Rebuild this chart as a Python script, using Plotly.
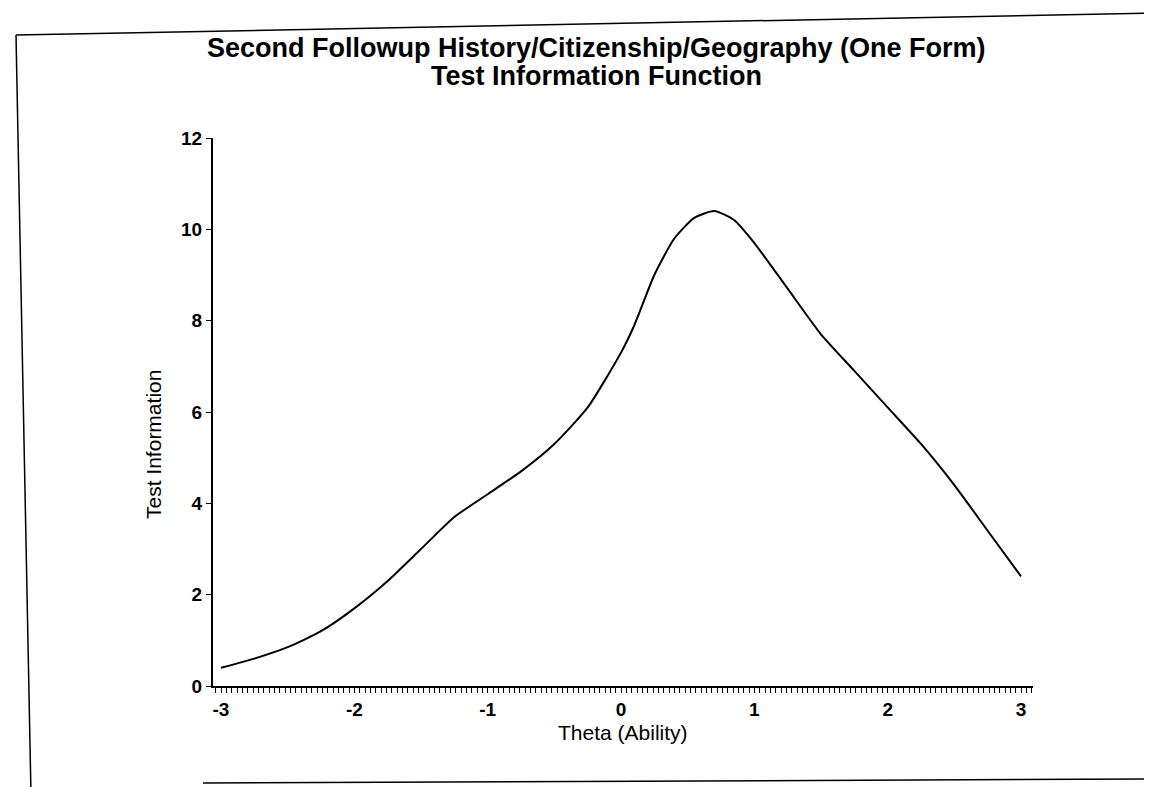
import plotly.graph_objects as go

# ── Data ───────────────────────────────────────────────────────
THETA = [-3.0, -2.75, -2.5, -2.25, -2.0, -1.75, -1.5, -1.25, -1.0, -0.75,
         -0.5, -0.25, 0.0, 0.1, 0.25, 0.4, 0.55, 0.7, 0.85, 1.0,
         1.25, 1.5, 1.75, 2.0, 2.25, 2.5, 2.75, 3.0]
INFO = [0.4, 0.6, 0.85, 1.2, 1.7, 2.3, 3.0, 3.7, 4.2, 4.7,
        5.3, 6.1, 7.3, 7.9, 9.0, 9.8, 10.25, 10.4, 10.2, 9.7,
        8.7, 7.7, 6.9, 6.1, 5.3, 4.4, 3.4, 2.4]
X_TICKS = [-3, -2, -1, 0, 1, 2, 3]
Y_TICKS = [0, 2, 4, 6, 8, 10, 12]

TITLE_1 = "Second Followup History/Citizenship/Geography (One Form)"
TITLE_2 = "Test Information Function"
FONT = "Liberation Sans, Arial, sans-serif"

W, H = 1152, 787
L, R, T, B = 205, 127, 130, 109
PW, PH = W - L - R, H - T - B


def px(x, y):
    """pixel -> paper coordinates (page decorations only)."""
    return (x - L) / PW, (H - B - y) / PH


def label(text, x, y, size, angle=0, weight="normal"):
    xp, yp = px(x, y)
    fig.add_annotation(text=text, x=xp, y=yp, xref="paper", yref="paper",
                       xanchor="center", yanchor="middle", textangle=angle,
                       showarrow=False, font=dict(size=size, weight=weight))


fig = go.Figure(go.Scatter(
    x=THETA, y=INFO, mode="lines",
    line=dict(color="black", width=2, shape="spline", smoothing=0.6),
    showlegend=False, hoverinfo="skip",
))

fig.update_layout(
    width=W, height=H,
    margin=dict(l=L, r=R, t=T, b=B),
    paper_bgcolor="white", plot_bgcolor="white",
    font=dict(family=FONT, color="black"),
)

fig.update_xaxes(
    range=[-3.06, 3.09], showgrid=False, zeroline=False,
    showline=True, linecolor="black", linewidth=2,
    tickmode="array", tickvals=X_TICKS, ticktext=[str(v) for v in X_TICKS],
    ticks="outside", ticklen=5, tickcolor="black", tickwidth=1,
    tickfont=dict(size=19, weight="bold"),
    minor=dict(dtick=0.04, ticks="outside", ticklen=5, tickcolor="black", tickwidth=1),
)
fig.update_yaxes(
    range=[0, 12], showgrid=False, zeroline=False,
    showline=True, linecolor="black", linewidth=2,
    tickmode="array", tickvals=Y_TICKS, ticktext=[str(v) for v in Y_TICKS],
    ticks="outside", ticklen=5, tickcolor="black", tickwidth=1,
    tickfont=dict(size=19, weight="bold"),
)

# titles
label(TITLE_1, 588, 40, 27, weight="bold")
label(TITLE_2, 588, 68, 27, weight="bold")

# axis titles
label("Test Information", 145, 437, 21, angle=-90)
label("Theta (Ability)", 615, 724, 21)

# scanned page border (slightly skewed)
for (a, b), (c, d) in [((8, 27), (1152, 5)), ((8, 27), (23, 787)), ((195, 775), (1152, 771))]:
    xa, ya = px(a, b)
    xc, yc = px(c, d)
    fig.add_shape(type="line", xref="paper", yref="paper", x0=xa, y0=ya, x1=xc, y1=yc,
                  line=dict(color="black", width=1.5))

fig.write_html("out.html")
